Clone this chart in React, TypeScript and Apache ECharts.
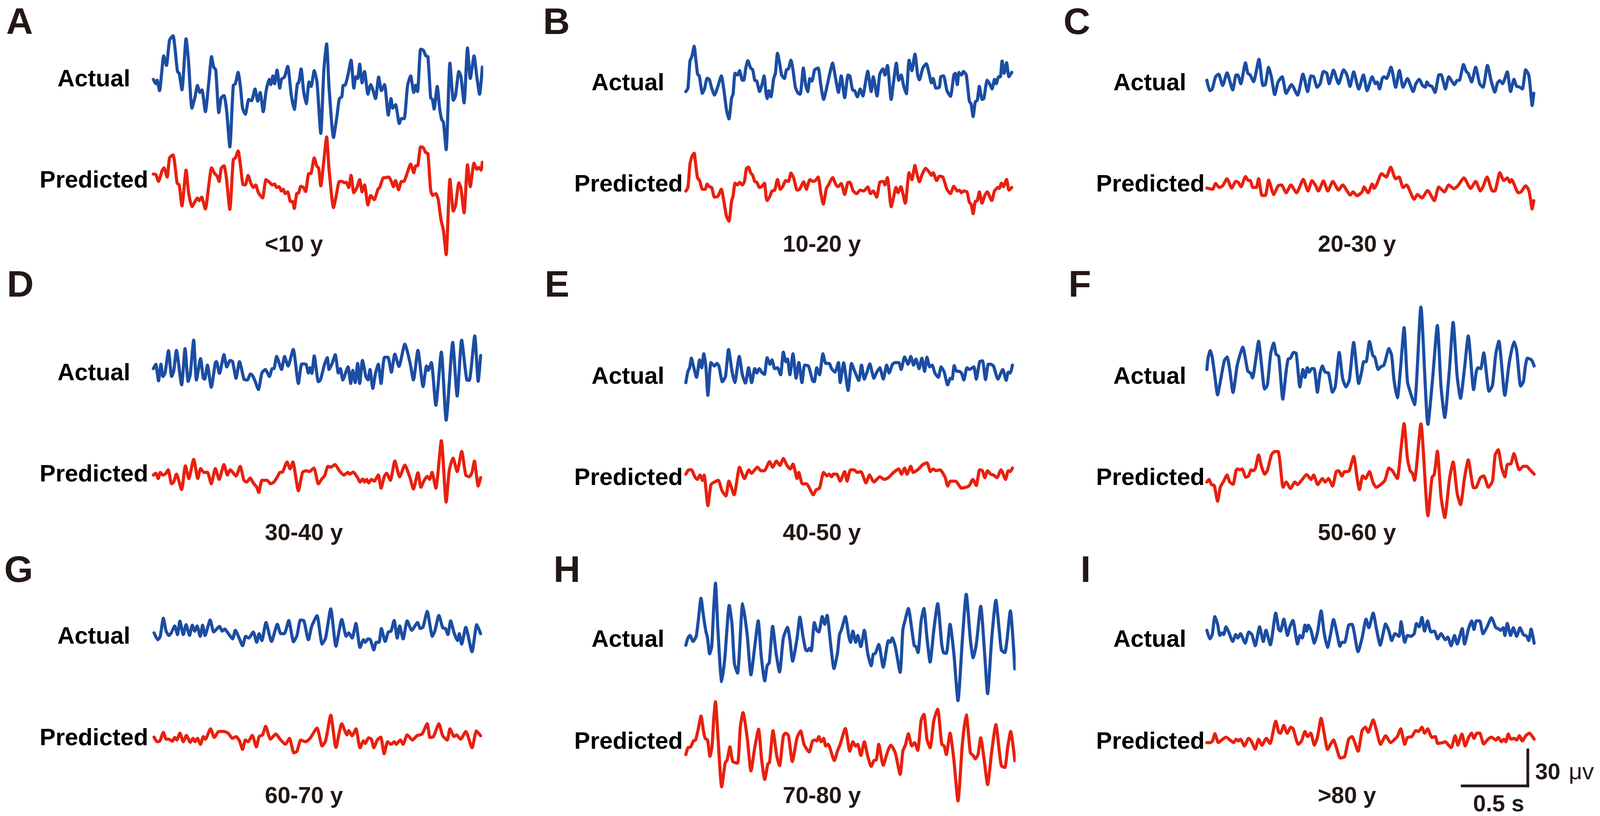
import React, { useEffect, useRef } from "react";
import * as echarts from "echarts";

// Digitised traces: flat lists of [tick, counts]. Ticks are time gauge marks (see COL_TICKS_PER_S),
// counts are amplitude gauge marks above the trace's baseline (see ROW_COUNTS_PER_UV).
const A_ACTUAL = [445,45,452,20,456,40,463,-20,470,100,475,180,483,125,492,270,502,295,508,220,515,90,520,80,528,-15,540,278,547,150,557,-120,566,-55,573,10,580,-30,586,-15,596,-140,606,30,614,175,620,115,626,100,635,-145,642,-60,650,-48,658,-140,667,-342,677,10,683,20,691,85,698,0,704,-120,712,-155,722,-70,730,-78,740,-10,748,-80,755,-30,764,-140,772,-25,781,45,786,15,792,65,797,20,804,98,812,-5,817,45,826,60,835,120,845,-40,854,-128,863,20,867,25,874,105,881,-20,889,-95,897,30,903,5,912,95,920,30,931,-265,940,100,948,248,955,0,968,-288,977,-180,985,-65,992,-55,996,10,1002,12,1010,70,1019,155,1027,-5,1033,60,1038,50,1044,132,1051,25,1058,90,1068,-40,1076,15,1083,-20,1090,-65,1099,58,1107,-20,1116,15,1127,-160,1135,-65,1140,-120,1148,-100,1159,-208,1165,-180,1173,-180,1183,10,1192,65,1201,-30,1207,12,1212,-25,1221,218,1229,212,1236,180,1242,175,1250,-60,1255,-70,1260,-125,1269,5,1276,-120,1282,-185,1287,-200,1295,-358,1306,138,1316,-75,1322,-50,1332,90,1338,60,1347,-90,1357,225,1365,50,1376,180,1384,60,1392,-40,1400,115];
const A_PREDICTED = [445,2,452,0,460,-40,470,20,476,38,485,-15,492,95,502,112,508,50,514,-50,520,-60,528,-180,540,25,547,-100,557,-185,566,-155,573,-135,578,-150,585,-130,596,-198,606,-60,614,38,622,8,630,-10,636,-40,642,35,650,50,657,-20,667,-200,677,85,683,95,691,135,698,50,705,-58,712,-60,720,-5,728,-50,735,-75,742,-60,750,-105,762,-135,772,-30,782,-45,790,-60,797,-55,803,-75,810,-70,817,-95,822,-85,828,-110,835,-100,843,-155,849,-155,854,-195,861,-110,867,-105,873,-68,881,-75,887,-98,896,5,902,5,912,95,919,50,925,35,931,-65,940,80,948,215,955,30,968,-190,976,-120,985,-40,993,-40,1000,-48,1005,-45,1012,-75,1019,-5,1027,-105,1036,-75,1044,-30,1051,-100,1058,-60,1068,-175,1076,-120,1086,-145,1097,-85,1102,-75,1112,-20,1120,-18,1128,-15,1136,-40,1142,-70,1148,-35,1157,-88,1165,-40,1172,-40,1183,15,1192,60,1201,10,1207,50,1212,50,1221,158,1228,155,1236,125,1242,120,1250,-90,1256,-120,1265,-110,1272,-145,1280,-260,1287,-320,1295,-460,1306,-28,1316,-210,1322,-180,1332,-48,1338,-80,1347,-220,1357,55,1365,-70,1376,65,1384,30,1390,40,1396,25,1400,70];
const B_ACTUAL = [422,-25,428,-5,434,150,440,180,446,235,451,160,456,75,461,65,470,-35,476,-10,484,52,490,45,497,-5,505,-45,515,5,525,65,532,-10,540,-130,547,-182,555,-60,559,-40,565,80,572,70,578,95,586,40,590,40,596,110,602,152,610,110,616,100,622,40,628,35,636,-25,645,30,649,65,655,-40,658,-65,663,-20,669,-55,677,50,682,80,688,195,694,140,700,70,708,50,714,100,720,105,727,155,733,100,740,0,748,-35,754,-40,763,110,770,10,776,-25,782,50,788,35,796,100,806,110,814,10,822,-70,830,-10,840,80,848,138,855,70,865,-30,873,65,883,-60,893,70,898,65,906,-15,912,-20,920,-55,928,-10,936,-50,942,10,950,92,960,-25,966,60,977,-50,985,75,994,105,1000,70,1007,125,1018,-70,1025,30,1033,138,1040,40,1047,70,1054,10,1062,-38,1070,155,1078,95,1087,190,1095,70,1100,42,1110,110,1120,135,1128,80,1135,25,1140,50,1148,-5,1158,0,1162,60,1170,65,1180,-20,1190,-52,1200,70,1204,80,1210,15,1215,85,1222,70,1228,90,1236,70,1245,-80,1250,-95,1256,-168,1262,-85,1268,-75,1274,5,1282,-70,1287,-65,1297,40,1305,15,1311,-10,1318,45,1323,20,1330,60,1335,60,1340,150,1346,80,1353,140,1360,60,1368,85];
const B_PREDICTED = [422,-95,428,-75,434,60,440,105,446,122,451,50,456,-20,462,-35,470,-85,478,-85,484,-55,490,-70,497,-75,505,-130,515,-125,525,-85,532,-150,540,-240,547,-268,555,-150,559,-125,565,-50,572,-60,578,-45,586,-60,592,-40,598,35,604,42,610,10,616,-5,622,-40,628,-45,636,-75,642,-70,650,-50,655,-130,658,-150,666,-125,672,-95,680,-90,688,-28,696,-85,703,-70,712,-35,720,-40,727,8,735,-20,745,-90,752,-85,764,-42,772,-85,782,-30,792,-40,798,-35,806,-15,814,-110,821,-170,830,-80,836,-60,848,-18,858,-60,864,-70,873,-52,883,-115,893,-45,898,-45,908,-95,918,-110,928,-90,938,-95,950,-72,958,-110,966,-95,976,-130,985,-45,995,-40,1000,-60,1007,-18,1018,-185,1025,-130,1032,-75,1038,-105,1046,-70,1059,-165,1070,10,1078,-30,1087,52,1092,10,1100,-42,1108,0,1118,35,1128,15,1135,-5,1140,10,1150,-35,1158,-10,1168,-15,1180,-85,1190,-110,1200,-68,1210,-95,1216,-90,1222,-105,1228,-95,1238,-100,1245,-160,1250,-170,1256,-225,1262,-155,1268,-150,1274,-100,1282,-165,1290,-120,1297,-100,1310,-150,1318,-95,1328,-75,1332,-80,1338,-50,1344,-70,1353,-28,1360,-90,1368,-75];
const C_ACTUAL = [398,40,407,-20,414,-10,424,60,433,75,445,10,458,82,475,-15,485,70,490,70,499,20,513,140,520,80,527,70,537,32,553,160,565,10,572,15,582,115,590,60,600,-42,610,30,622,60,634,-35,650,15,668,-45,684,75,698,-25,708,65,716,60,726,0,735,20,745,90,755,80,762,20,775,98,790,20,805,100,815,70,824,5,835,88,850,-10,864,70,875,-20,890,60,900,20,905,30,912,-10,920,50,925,60,933,50,946,115,960,0,971,95,982,0,995,50,1012,-25,1020,20,1030,45,1040,10,1048,0,1053,30,1060,10,1068,5,1077,-30,1088,70,1095,72,1108,-10,1118,60,1135,15,1142,38,1150,40,1162,130,1170,90,1176,80,1186,30,1198,115,1210,20,1220,0,1233,125,1245,30,1255,-28,1263,25,1270,38,1278,20,1292,88,1302,-25,1312,45,1320,5,1328,2,1337,-10,1347,100,1356,70,1362,-30,1366,-105,1371,-35];
const C_PREDICTED = [398,-78,415,-85,424,-52,435,-75,445,-65,458,-25,472,-78,484,-40,491,-45,500,-70,513,-12,522,-35,527,-35,535,-75,545,-75,552,-25,562,-120,572,-120,582,-32,597,-115,610,-65,620,-60,634,-105,648,-60,665,-105,685,-28,699,-95,711,-35,722,-65,730,-95,745,-37,758,-95,773,-40,790,-90,802,-60,825,-118,833,-100,845,-122,860,-100,866,-72,878,-105,890,-55,896,-80,905,-50,918,5,932,-15,945,42,960,-25,970,-15,982,-75,992,-60,1015,-142,1025,-115,1038,-135,1055,-92,1075,-150,1088,-72,1105,-100,1118,-60,1133,-82,1145,-65,1163,-20,1183,-80,1198,-40,1212,-95,1220,-70,1232,-15,1248,-95,1255,-95,1270,10,1282,-35,1292,-20,1300,-45,1305,-30,1325,-105,1333,-100,1347,-65,1356,-90,1362,-150,1366,-198,1371,-150];
const D_ACTUAL = [445,-45,452,-20,460,-115,467,-20,473,-90,479,-70,489,58,498,-90,504,-60,512,60,527,-138,537,70,546,-118,552,-80,562,118,570,-110,582,12,590,-100,594,-105,602,-25,613,-152,625,-10,628,-5,637,-72,650,35,658,-35,668,2,675,-5,685,-100,695,-5,708,-105,714,-110,718,-110,727,-75,733,-85,740,-115,750,-165,760,-70,770,-50,782,-90,790,-45,795,-45,803,25,817,-50,826,25,836,-30,851,65,866,-130,876,-18,888,-20,895,-70,900,-40,905,-72,912,28,924,-120,930,-110,942,-20,950,18,955,-50,964,-15,973,35,982,-70,988,-45,995,-110,1010,-35,1018,-130,1024,-55,1031,-125,1038,-15,1044,-130,1052,2,1062,-90,1068,-110,1074,-50,1082,-158,1090,-70,1098,-20,1106,-130,1116,20,1126,20,1136,-65,1146,38,1158,-32,1175,95,1190,-10,1200,-110,1213,60,1228,-148,1238,-30,1243,-55,1252,-10,1265,-255,1281,50,1295,-340,1314,105,1327,-202,1340,118,1355,-110,1362,-112,1378,142,1388,-118,1395,30];
const D_PREDICTED = [445,-155,452,-145,459,-175,465,-140,472,-155,480,-148,488,-125,498,-205,504,-195,512,-150,527,-238,538,-102,548,-175,562,-65,574,-175,582,-118,592,-140,602,-140,613,-205,625,-118,636,-180,650,-95,660,-155,668,-125,685,-160,697,-105,708,-185,716,-195,726,-172,735,-200,745,-225,751,-255,760,-185,768,-185,775,-185,785,-205,795,-195,805,-165,812,-140,820,-138,833,-80,842,-120,850,-80,866,-245,878,-140,888,-130,898,-135,911,-115,924,-205,935,-175,942,-160,952,-105,960,-110,972,-95,985,-130,998,-155,1010,-140,1015,-150,1025,-138,1038,-170,1045,-195,1053,-178,1058,-195,1064,-180,1070,-200,1078,-180,1086,-190,1098,-155,1106,-230,1116,-160,1122,-145,1133,-185,1146,-75,1160,-165,1175,-98,1190,-170,1200,-235,1213,-142,1222,-225,1230,-190,1240,-162,1247,-180,1254,-140,1265,-230,1281,42,1295,-310,1304,-130,1315,-58,1327,-135,1340,-20,1352,-155,1362,-165,1370,-140,1377,-75,1388,-218,1395,-170];
const E_ACTUAL = [422,-125,428,-60,433,-40,438,15,444,-30,453,-95,462,5,468,-40,474,40,480,-30,486,-198,495,-10,505,-30,512,-15,518,-30,528,-120,537,-90,546,65,556,-60,564,-125,577,25,586,-80,595,-128,604,-40,613,-125,622,-45,628,-70,635,-45,642,-65,650,-78,658,18,666,-20,672,5,680,-45,688,-40,697,-80,705,50,712,-5,717,10,724,-80,733,40,742,-100,750,-10,759,-125,767,-25,778,-30,790,-115,795,-120,802,-40,810,-80,820,40,828,-15,838,-15,845,-45,855,-65,865,-10,870,-125,880,-12,893,-170,903,-15,912,-60,924,-112,932,-25,940,-105,947,-70,956,-18,968,-100,975,-70,985,-40,995,-105,1005,-25,1012,-70,1022,-20,1030,-10,1040,-10,1047,-50,1057,22,1067,-20,1075,25,1083,-25,1090,10,1099,-45,1107,15,1115,-60,1122,20,1130,-35,1137,-25,1145,-70,1155,-95,1163,-35,1172,-65,1182,-138,1190,-100,1195,-105,1201,-28,1208,-60,1215,-60,1222,-70,1229,-110,1238,-40,1245,-50,1250,-45,1258,-35,1265,-105,1275,-5,1283,0,1292,-108,1300,-20,1307,-20,1315,-30,1328,-105,1342,-50,1352,-112,1358,-65,1364,-70,1370,-25];
const E_PREDICTED = [422,-150,430,-125,438,-125,448,-165,455,-180,463,-155,470,-185,475,-155,486,-330,495,-210,505,-195,516,-185,527,-245,538,-275,547,-190,562,-268,578,-110,592,-175,605,-125,612,-145,630,-110,640,-130,650,-130,665,-78,674,-110,685,-75,695,-100,705,-60,715,-98,725,-120,733,-92,745,-175,750,-140,760,-205,772,-205,792,-268,800,-240,810,-230,822,-140,832,-160,838,-150,845,-165,850,-150,860,-150,870,-190,883,-135,890,-190,900,-125,910,-125,920,-140,930,-135,945,-200,955,-155,968,-195,985,-165,998,-180,1010,-170,1025,-140,1040,-120,1048,-150,1057,-115,1064,-150,1075,-105,1082,-140,1095,-125,1110,-95,1122,-85,1132,-135,1140,-120,1148,-130,1160,-125,1175,-170,1182,-218,1190,-190,1205,-190,1222,-230,1235,-225,1245,-215,1255,-180,1265,-215,1275,-125,1283,-130,1290,-170,1298,-130,1307,-150,1315,-155,1325,-170,1337,-125,1350,-180,1358,-130,1364,-135,1370,-115];
const F_ACTUAL = [398,-50,402,20,408,58,414,20,422,-90,430,-195,438,-120,450,0,458,22,466,-50,476,-182,488,-30,496,30,505,78,513,10,520,-60,528,-70,534,-98,543,0,552,112,560,-10,570,-162,578,-140,588,40,597,102,604,38,612,25,624,-220,634,-60,640,10,647,15,656,48,664,42,675,-150,684,-50,690,-95,697,-40,703,-65,710,-45,717,-45,727,-180,735,-70,742,-30,750,-65,760,-70,772,-180,780,-150,792,48,802,-100,812,-150,822,-110,835,105,850,-130,858,-70,865,-5,872,-5,882,110,892,30,898,20,908,-50,915,-35,925,-25,940,70,948,30,955,-110,965,-212,975,-30,985,190,995,-120,1005,-190,1016,-252,1035,308,1056,-365,1070,-100,1084,202,1095,-150,1106,-325,1120,-50,1131,220,1143,-90,1153,-215,1165,-40,1176,142,1192,-165,1200,-60,1205,-40,1213,-45,1222,45,1238,-175,1248,-140,1258,40,1267,112,1285,-198,1298,-10,1312,108,1320,60,1332,-145,1340,-120,1346,-30,1352,15,1360,10,1366,0,1372,-30];
const F_PREDICTED = [398,-195,404,-180,412,-210,420,-215,430,-305,438,-225,448,-190,458,-155,466,-195,476,-208,485,-128,490,-120,497,-125,503,-120,514,-168,522,-160,530,-125,536,-130,542,-120,552,-40,560,-100,570,-150,578,-130,590,-40,598,-22,610,-20,625,-225,634,-195,647,-232,660,-195,668,-210,680,-185,695,-152,708,-180,716,-155,728,-210,742,-175,750,-195,760,-175,772,-218,783,-135,790,-130,800,-160,808,-135,815,-135,822,-130,835,-48,845,-170,852,-238,862,-160,870,-175,882,-135,892,-195,902,-225,915,-210,928,-185,940,-115,950,-130,958,-155,965,-175,975,-20,985,140,995,-60,1003,-130,1010,-145,1016,-185,1035,138,1056,-388,1068,-170,1075,-150,1084,-18,1095,-280,1106,-398,1120,-180,1131,-80,1143,-260,1153,-325,1165,-170,1176,-68,1192,-228,1200,-225,1212,-170,1222,-160,1236,-225,1248,-190,1256,-40,1265,-10,1275,-110,1285,-165,1292,-95,1303,-90,1312,-32,1328,-125,1340,-105,1350,-105,1360,-125,1372,-150];
const G_ACTUAL = [447,0,458,-40,465,-20,474,85,482,10,490,-15,497,0,507,40,515,-10,522,68,532,-10,540,48,550,-15,558,45,565,10,572,40,581,-20,588,45,595,-15,610,75,620,5,630,25,637,38,645,10,652,22,663,-5,675,-35,683,15,695,-35,704,-75,713,-20,722,-30,735,5,745,-55,752,-5,760,-45,772,60,788,-50,805,50,815,-5,825,-5,838,72,852,-52,862,-15,872,75,882,70,895,-40,905,40,920,100,935,-65,945,-30,960,140,975,-78,992,78,1005,-20,1012,0,1022,-30,1033,55,1045,-85,1055,-40,1060,-55,1068,-35,1075,-40,1085,-100,1092,-55,1100,-55,1107,25,1118,-50,1127,5,1135,10,1144,72,1153,-30,1160,40,1170,-35,1182,70,1195,15,1212,60,1220,25,1228,35,1240,125,1255,-20,1262,10,1274,102,1285,30,1293,25,1300,-10,1308,70,1318,0,1328,-45,1333,-5,1340,-65,1352,32,1370,-110,1384,48,1395,-5];
const G_PREDICTED = [447,-108,456,-135,464,-130,474,-80,482,-120,490,-120,500,-132,507,-110,513,-125,522,-85,532,-135,541,-98,552,-138,560,-115,566,-135,573,-115,582,-150,590,-105,596,-120,611,-60,622,-110,635,-75,650,-75,662,-85,675,-115,685,-105,695,-130,704,-180,712,-125,720,-135,732,-98,744,-165,752,-105,762,-95,771,-45,785,-120,800,-90,815,-125,828,-150,840,-115,853,-200,862,-190,873,-125,887,-135,900,-115,920,-55,935,-160,945,-130,960,20,975,-168,992,-30,1007,-95,1012,-70,1022,-100,1033,-60,1045,-170,1055,-130,1060,-145,1070,-112,1078,-120,1085,-170,1095,-125,1105,-108,1115,-205,1125,-135,1135,-150,1145,-135,1150,-150,1162,-125,1170,-150,1182,-95,1197,-125,1210,-100,1225,-90,1240,-30,1248,-110,1258,-105,1274,-30,1285,-100,1298,-125,1306,-60,1318,-105,1325,-95,1337,-120,1352,-75,1370,-170,1383,-72,1395,-100];
const H_ACTUAL = [422,-72,428,-30,434,-15,443,-50,452,-20,458,70,466,202,473,100,480,10,485,-30,491,-122,497,-80,503,150,508,290,515,20,526,-285,535,-150,548,160,556,50,563,-180,572,-235,587,170,600,-10,611,-245,622,-80,632,70,641,-140,651,-280,658,-190,664,-175,674,38,684,-120,694,-228,705,-30,717,32,724,-40,732,-165,745,-30,753,92,762,-20,770,-100,775,-105,781,-90,786,-105,795,60,802,15,808,5,818,95,825,50,832,102,842,-60,852,-208,862,-120,868,-10,874,20,885,95,895,-20,900,-55,907,10,915,-55,921,-15,930,-80,940,15,950,-120,960,-192,966,-125,972,-120,982,-68,995,-200,1010,-45,1015,-55,1021,-30,1030,-80,1044,-230,1052,20,1058,70,1068,142,1078,20,1085,-75,1090,-80,1096,-115,1105,70,1113,142,1122,-30,1131,-170,1142,20,1153,170,1165,-70,1170,-115,1178,-120,1189,50,1200,-120,1212,-395,1225,-30,1236,225,1248,-40,1256,-145,1265,-70,1278,155,1290,-140,1298,-355,1310,-30,1322,190,1332,10,1338,-100,1348,-115,1364,128,1377,-210];
const H_PREDICTED = [422,-210,428,-170,436,-165,444,-130,450,-125,458,-60,466,15,473,-70,478,-115,485,-125,492,-220,498,-160,503,0,508,98,515,-100,526,-398,536,-260,542,-240,550,-165,558,-250,572,-260,580,-50,588,35,600,-110,611,-305,622,-170,633,-62,642,-240,651,-355,660,-265,665,-255,675,-70,686,-220,694,-275,705,-100,712,-85,720,-100,731,-250,745,-110,755,-72,765,-150,772,-175,780,-195,790,-130,797,-125,802,-130,808,-105,815,-135,822,-115,828,-160,835,-150,853,-245,862,-190,870,-150,885,-58,898,-190,907,-135,915,-160,921,-150,930,-215,940,-135,950,-220,960,-278,968,-245,975,-240,982,-150,995,-272,1008,-190,1017,-155,1030,-200,1044,-325,1052,-190,1060,-150,1068,-88,1078,-160,1086,-140,1095,-185,1105,-10,1113,25,1122,-120,1131,-170,1142,-10,1153,55,1165,-150,1172,-160,1178,-210,1189,-85,1200,-240,1212,-480,1225,-140,1236,22,1248,-200,1256,-215,1262,-235,1270,-210,1278,-112,1288,-240,1298,-385,1310,-190,1322,-35,1332,-190,1338,-275,1348,-285,1356,-170,1365,-75,1377,-245];
const I_ACTUAL = [398,15,407,-35,414,-10,422,95,430,50,437,-15,443,0,448,-10,455,35,462,10,475,-50,484,-10,490,-30,498,-5,512,-60,523,5,532,-10,542,-75,555,35,566,-50,574,15,587,-70,603,115,612,20,617,10,627,80,638,-15,645,35,654,72,668,-65,675,-15,682,-30,690,45,695,10,700,45,708,15,718,-60,728,10,738,128,747,0,757,-85,766,-10,775,78,785,0,794,-78,800,-55,808,-55,820,45,830,50,848,-110,860,-30,872,80,880,30,893,115,903,20,914,-72,922,-10,930,52,940,10,948,-45,958,-5,970,-20,976,65,987,-55,995,-15,1005,-20,1015,-5,1022,55,1030,35,1038,90,1046,10,1055,70,1065,5,1075,10,1085,-35,1095,-5,1108,-40,1115,-25,1125,-75,1135,-15,1143,-65,1158,25,1165,-65,1177,25,1186,70,1193,20,1200,70,1210,70,1220,-5,1232,35,1245,88,1258,30,1265,25,1272,15,1280,30,1285,-15,1292,55,1302,-15,1310,30,1320,-20,1330,30,1340,-10,1350,-20,1356,-45,1363,22,1372,-60];
const I_PREDICTED = [398,-140,408,-140,415,-130,422,-88,432,-140,442,-125,455,-108,470,-130,478,-140,485,-120,492,-130,498,-120,510,-160,522,-115,530,-130,542,-178,552,-120,562,-155,575,-115,586,-145,603,-15,612,-80,617,-85,627,-40,637,-85,648,-50,655,-60,670,-150,680,-130,690,-75,698,-105,707,-85,718,-155,728,-100,738,2,748,-95,757,-180,766,-150,775,-125,783,-165,795,-230,808,-222,820,-120,830,-105,848,-190,860,-70,870,-50,878,-80,893,-8,903,-70,915,-150,930,-100,945,-140,960,-115,965,-105,975,-60,987,-150,995,-110,1008,-105,1020,-70,1028,-75,1038,-50,1046,-85,1055,-60,1068,-110,1078,-105,1085,-145,1100,-140,1108,-135,1115,-150,1125,-170,1137,-100,1145,-155,1157,-90,1167,-160,1177,-110,1186,-85,1193,-115,1202,-85,1210,-85,1222,-148,1235,-120,1245,-108,1258,-125,1265,-110,1275,-135,1282,-120,1288,-135,1295,-90,1303,-120,1312,-115,1320,-125,1328,-100,1337,-130,1347,-100,1358,-85,1372,-120];

const PANEL_LETTERS = ["A", "B", "C", "D", "E", "F", "G", "H", "I"];
const AGE_LABELS = ["<10 y", "10-20 y", "20-30 y", "30-40 y", "40-50 y", "50-60 y", "60-70 y", "70-80 y", ">80 y"];
const ACTUAL_TRACES = [A_ACTUAL, B_ACTUAL, C_ACTUAL, D_ACTUAL, E_ACTUAL, F_ACTUAL, G_ACTUAL, H_ACTUAL, I_ACTUAL];
const PREDICTED_TRACES = [A_PREDICTED, B_PREDICTED, C_PREDICTED, D_PREDICTED, E_PREDICTED, F_PREDICTED, G_PREDICTED, H_PREDICTED, I_PREDICTED];

// Gauges for the digitised readings
const COL_T0 = [445, 422, 398];
const COL_TICKS_PER_S = [381, 381, 390.6];
const ROW_COUNTS_PER_UV = [6.88, 6.88, 7.0];
const TRACE_SECONDS = 2.5;
const SCALE_BAR_SECONDS = 0.5;
const SCALE_BAR_UV = 30;

// Layout, in the reference's 4145-wide frame; the browser window may be narrower, so x is rescaled by fx.
const REF_WIDTH = 4145;
const HEIGHT = 2088;
const PX_PER_S = 340;
const PX_PER_UV = 3.07;
const COL_LEFT = [397.3, 1776.8, 3126.5];
const ROW_ACTUAL_Y = [223.2, 923.2, 1619.4];
const ROW_PREDICTED_Y = [446.4, 1146.4, 1838.8];
const GRID_HALF = 220;
const LETTER_LEFT = [16, 1407, 2755, 18, 1411, 2768, 11, 1434, 2799];
const LETTER_BASE = [87, 759, 1489];
const ACTUAL_RIGHT = [337.5, 1721, 3073];
const PREDICTED_RIGHT = [384, 1769, 3121];
const ACTUAL_BASE = [[221, 231, 231], [973, 982, 982], [1647, 1655, 1655]];
const PREDICTED_BASE = [[480, 490, 490], [1232, 1241.5, 1241.5], [1907, 1916, 1916]];
const AGE_LEFT = [686, 2028, 3414];
const AGE_BASE = [644, 1382, 2055];
const BLUE = "#1B4DA3";
const RED = "#E8200F";
const INK = "#231815";
const FAMILY = '"Liberation Sans", Arial, sans-serif';

const toPoints = (flat: number[], col: number, row: number) => {
  const out: number[][] = [];
  for (let i = 0; i < flat.length; i += 2) {
    out.push([(flat[i] - COL_T0[col]) / COL_TICKS_PER_S[col], flat[i + 1] / ROW_COUNTS_PER_UV[row]]);
  }
  return out;
};

function buildOption(width: number) {
  const fx = width / REF_WIDTH;
  const grid: any[] = [];
  const xAxis: any[] = [];
  const yAxis: any[] = [];
  const series: any[] = [];
  const graphic: any[] = [];

  // text whose baseline sits at a given y (the SVG text is centred on the middle of the font box)
  const label = (text: string, x: number, baseline: number, size: number, fill: string, align = "left", weight = "bold") => ({
    type: "text",
    silent: true,
    style: {
      text,
      x: x * fx,
      y: baseline - 0.3465 * size,
      fill,
      font: `${weight} ${size}px ${FAMILY}`,
      textAlign: align,
      textVerticalAlign: "middle",
    },
  });

  const addTrace = (flat: number[], col: number, row: number, centreY: number, color: string, name: string) => {
    const idx = grid.length;
    grid.push({
      left: COL_LEFT[col] * fx,
      top: centreY - GRID_HALF,
      width: TRACE_SECONDS * PX_PER_S * fx,
      height: GRID_HALF * 2,
      outerBoundsMode: "none",
      containLabel: false,
    });
    xAxis.push({ type: "value", gridIndex: idx, min: 0, max: TRACE_SECONDS, show: false });
    yAxis.push({ type: "value", gridIndex: idx, min: -GRID_HALF / PX_PER_UV, max: GRID_HALF / PX_PER_UV, show: false });
    series.push({
      type: "line",
      name,
      xAxisIndex: idx,
      yAxisIndex: idx,
      data: toPoints(flat, col, row),
      showSymbol: false,
      symbol: "none",
      clip: false,
      smooth: 0.2,
      lineStyle: { color, width: 8, join: "round", cap: "round" },
    });
  };

  PANEL_LETTERS.forEach((letter, i) => {
    const col = i % 3;
    const row = Math.floor(i / 3);
    addTrace(ACTUAL_TRACES[i], col, row, ROW_ACTUAL_Y[row], BLUE, `${letter} Actual`);
    addTrace(PREDICTED_TRACES[i], col, row, ROW_PREDICTED_Y[row], RED, `${letter} Predicted`);
    graphic.push(label(letter, LETTER_LEFT[i], LETTER_BASE[row], 95, INK));
    graphic.push(label("Actual", ACTUAL_RIGHT[col], ACTUAL_BASE[row][col], 61, "#000", "right"));
    graphic.push(label("Predicted", PREDICTED_RIGHT[col], PREDICTED_BASE[row][col], 61, "#000", "right"));
    graphic.push(label(AGE_LABELS[i], AGE_LEFT[col], AGE_BASE[row], 59, INK));
  });

  // scale bar
  const cornerX = 3958;
  const cornerY = 2011;
  const barStyle = { stroke: INK, lineWidth: 7, lineCap: "square" };
  graphic.push({ type: "line", silent: true, shape: { x1: (cornerX - SCALE_BAR_SECONDS * PX_PER_S) * fx, y1: cornerY, x2: cornerX * fx, y2: cornerY }, style: barStyle });
  graphic.push({ type: "line", silent: true, shape: { x1: cornerX * fx, y1: cornerY, x2: cornerX * fx, y2: cornerY - SCALE_BAR_UV * PX_PER_UV }, style: barStyle });
  graphic.push(label(String(SCALE_BAR_UV), 3977, 1994, 58, INK));
  graphic.push(label("μv", 4064, 1994, 60, INK, "left", "normal"));
  graphic.push(label(`${SCALE_BAR_SECONDS} s`, 3816, 2076, 59, INK));

  return { animation: false, backgroundColor: "#fff", tooltip: { show: false }, grid, xAxis, yAxis, series, graphic };
}

export default function App() {
  const ref = useRef<HTMLDivElement>(null);
  useEffect(() => {
    document.body.style.margin = "0";
    const width = Math.min(window.innerWidth, REF_WIDTH);
    ref.current!.style.width = `${width}px`;
    const chart = echarts.init(ref.current!, undefined, { renderer: "svg", width, height: HEIGHT });
    chart.setOption(buildOption(width) as any);
    return () => chart.dispose();
  }, []);
  return <div ref={ref} style={{ height: HEIGHT, overflow: "hidden" }} />;
}
